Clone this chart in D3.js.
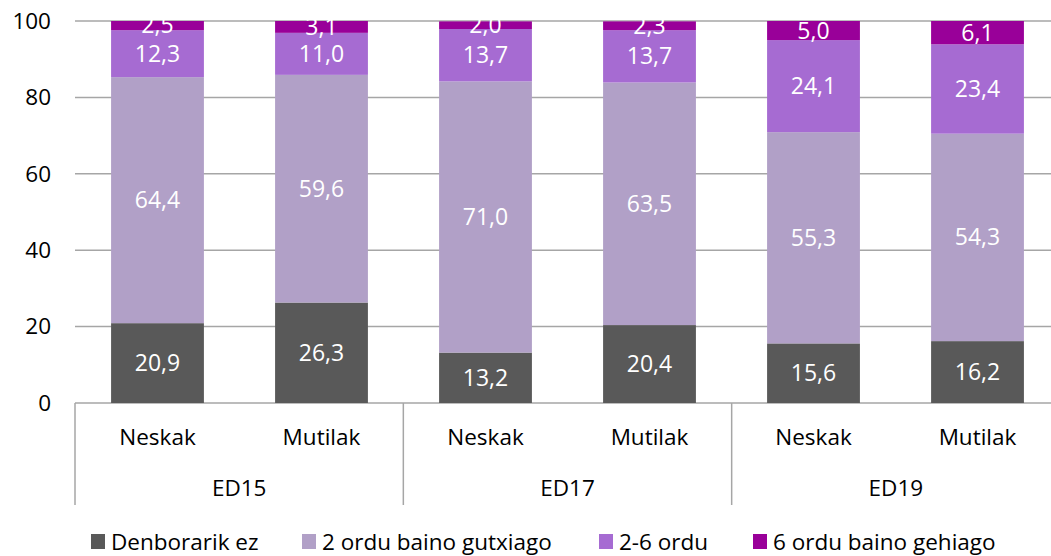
<!DOCTYPE html>
<html><head><meta charset="utf-8">
<script src="https://cdn.jsdelivr.net/npm/d3@7"></script>
<style>
body{margin:0;background:#fff;}
text{font-family:"Open Sans", sans-serif;}
</style></head>
<body><svg id="c" width="1051" height="556"></svg>
<script>
const groups = ["ED15","ED17","ED19"];
const genders = ["Neskak","Mutilak"];
const seriesNames = ["Denborarik ez","2 ordu baino gutxiago","2-6 ordu","6 ordu baino gehiago"];
const colors = ["#595959","#B1A0C7","#A66BD2","#990099"];
const denborarikEz = [20.9,26.3,13.2,20.4,15.6,16.2];
const gutxiago2 = [64.4,59.6,71.0,63.5,55.3,54.3];
const ordu2_6 = [12.3,11.0,13.7,13.7,24.1,23.4];
const gehiago6 = [2.5,3.1,2.0,2.3,5.0,6.1];
const yTicks = [0,20,40,60,80,100];

const series = [denborarikEz,gutxiago2,ordu2_6,gehiago6];
const cats = [];
groups.forEach(g=>genders.forEach(s=>cats.push(g+"|"+s)));

const svg = d3.select("#c");
const L=75,R=1060,T=21,B=403;
const AX=22.5, LB=23;
const x = d3.scaleBand().domain(cats).range([L,R]).paddingInner(0.434).paddingOuter(0.22);
const y = d3.scaleLinear().domain([0,100]).range([B,T]);

svg.append("g").selectAll("line").data(yTicks).join("line")
  .attr("x1",L).attr("x2",R).attr("y1",d=>y(d)).attr("y2",d=>y(d))
  .attr("stroke","#A6A6A6").attr("stroke-width",1.5);
svg.append("g").selectAll("text").data(yTicks).join("text")
  .attr("x",51).attr("y",d=>y(d)).attr("dy","0.35em").attr("text-anchor","end")
  .attr("font-size",AX).attr("fill","#000").text(d=>d);

svg.append("defs").append("clipPath").attr("id","pc").append("rect")
  .attr("x",L).attr("y",T).attr("width",R-L).attr("height",B-T);

const stackData = cats.map((c,i)=>{
  let acc=0;
  return series.map((s,k)=>{const y0=acc; acc+=s[i]; return {c,k,v:s[i],y0,y1:acc};});
});
const bars = svg.append("g").attr("clip-path","url(#pc)");
stackData.forEach(col=>{
  col.forEach(d=>{
    bars.append("rect").attr("x",x(d.c)).attr("width",x.bandwidth())
      .attr("y",y(d.y1)).attr("height",y(d.y0)-y(d.y1)).attr("fill",colors[d.k]);
  });
});
const fmt = v=>v.toFixed(1).replace(".",",");
const lab = svg.append("g");
stackData.forEach(col=>{
  col.forEach(d=>{
    lab.append("text").attr("x",x(d.c)+x.bandwidth()/2).attr("y",(y(d.y0)+y(d.y1))/2)
      .attr("dy","0.35em").attr("text-anchor","middle").attr("font-size",LB)
      .attr("fill","#fff").text(fmt(d.v));
  });
});

const ax = svg.append("g");
ax.selectAll("text.g").data(cats).join("text")
  .attr("x",d=>x(d)+x.bandwidth()/2).attr("y",437).attr("dy","0.35em")
  .attr("text-anchor","middle").attr("font-size",AX).text(d=>d.split("|")[1]);
const gw = (R-L)/groups.length;
groups.forEach((g,i)=>{
  ax.append("text").attr("x",L+gw*i+gw/2).attr("y",488).attr("dy","0.35em")
    .attr("text-anchor","middle").attr("font-size",AX).text(g);
});
d3.range(groups.length+1).forEach(i=>{
  const xx = L+gw*i;
  ax.append("line").attr("x1",xx).attr("x2",xx).attr("y1",B).attr("y2",505)
    .attr("stroke","#A6A6A6").attr("stroke-width",1.5);
});

const legX = [91,302,599,753];
const leg = svg.append("g");
seriesNames.forEach((n,i)=>{
  leg.append("rect").attr("x",legX[i]).attr("y",534).attr("width",14).attr("height",15).attr("fill",colors[i]);
  leg.append("text").attr("x",legX[i]+20).attr("y",542).attr("dy","0.35em").attr("font-size",AX).text(n);
});
</script></body></html>
